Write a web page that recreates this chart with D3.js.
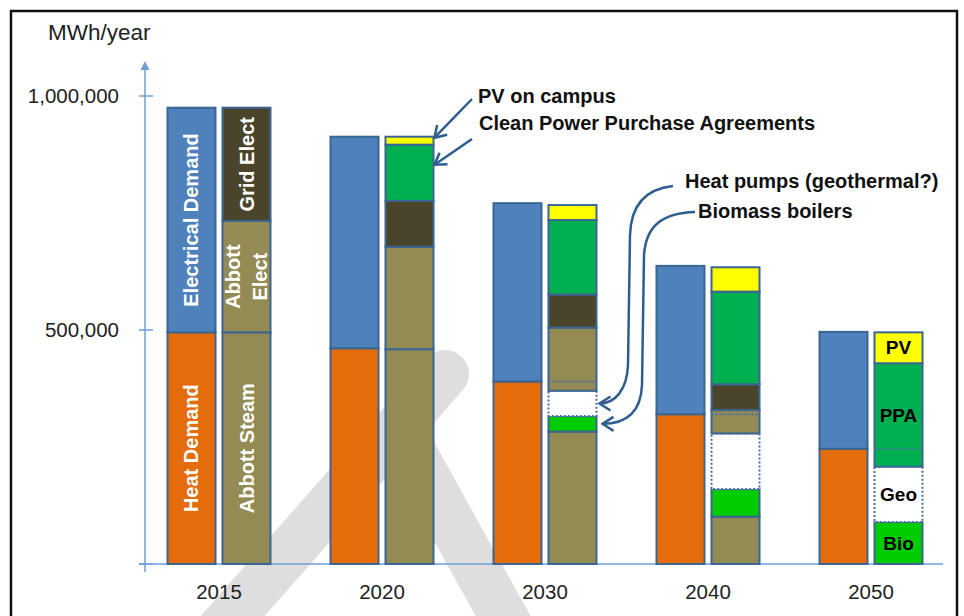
<!DOCTYPE html>
<html>
<head>
<meta charset="utf-8">
<script src="https://cdn.jsdelivr.net/npm/d3@7"></script>
<style>
  body { margin: 0; background: #fff; }
  svg { font-family: "Liberation Sans", Arial, sans-serif; }
</style>
</head>
<body>
<svg id="chart" width="964" height="616"></svg>
<script>
// values, MWh/year
const years = ['2015', '2020', '2030', '2040', '2050'];
const heatDemand = [495000, 461000, 390000, 320000, 246000];
const elecDemand = [480000, 452000, 381000, 317000, 250000];
const abbottSteam = [495000, 459000, 283000, 101000, 0];
const biomass = [0, 0, 33000, 59000, 90000];
const heatPumps = [0, 0, 54000, 119000, 118000];
const abbottElect = [238000, 219000, 135000, 50000, 0];
const gridElect = [242000, 98000, 71000, 55000, 0];
const ppa = [0, 120000, 159000, 198000, 221000];
const pv = [0, 17000, 32000, 52000, 66000];
const yTicks = [500000, 1000000];

const rows = years.map((yr, i) => ({
  year: yr,
  heat: heatDemand[i], elec: elecDemand[i],
  steam: abbottSteam[i], bio: biomass[i], geo: heatPumps[i],
  abElec: abbottElect[i], grid: gridElect[i], ppa: ppa[i], pv: pv[i]
}));

const colors = {
  heat: '#e46c0a', elec: '#4f81bd', steam: '#948a54', bio: '#00cc00',
  geo: '#ffffff', abElec: '#948a54', grid: '#4a452a', ppa: '#00b050', pv: '#ffff00'
};
const edge = '#3b6593';
const axisBlue = '#6f9fd8';
const arrowColor = '#2e5d8f';

const svg = d3.select('#chart');

const x0 = d3.scaleBand().domain(years).range([137.5, 952.5]);
const x1 = d3.scaleBand().domain(['demand', 'supply']).range([-51.5, 51.5]).paddingInner(0.1273);
const y = d3.scaleLinear().domain([0, 1000000]).range([564, 96]);
const cx = yr => x0(yr) + x0.bandwidth() / 2;

// watermark behind everything
svg.append('g')
  .attr('fill', 'none')
  .attr('stroke', '#dedede')
  .attr('stroke-width', 48)
  .attr('stroke-linecap', 'round')
  .selectAll('path')
  .data(['M203,650 L445,374', 'M400,430 L522,650'])
  .enter().append('path')
  .attr('d', d => d);

// axes
svg.append('line')
  .attr('x1', 145).attr('x2', 145)
  .attr('y1', y(0) + 8).attr('y2', 68)
  .attr('stroke', axisBlue).attr('stroke-width', 1.5);
svg.append('path')
  .attr('d', 'M145,61 L140.5,70 L149.5,70 Z')
  .attr('fill', axisBlue);
svg.append('line')
  .attr('x1', 139).attr('x2', 943)
  .attr('y1', y(0)).attr('y2', y(0))
  .attr('stroke', axisBlue).attr('stroke-width', 1.5);
svg.selectAll('.tickmark')
  .data([0].concat(yTicks))
  .enter().append('line')
  .attr('x1', 139).attr('x2', 153)
  .attr('y1', d => y(d)).attr('y2', d => y(d))
  .attr('stroke', axisBlue).attr('stroke-width', 1.5);

const yAxis = svg.append('g')
  .attr('transform', 'translate(145,0)')
  .call(d3.axisLeft(y).tickValues(yTicks).tickFormat(d3.format(',')).tickSize(0).tickPadding(26));
yAxis.select('.domain').remove();
yAxis.selectAll('text').attr('font-size', 20.5).attr('fill', '#222').attr('font-family', null);

const xAxis = svg.append('g')
  .attr('transform', `translate(0,${y(0)})`)
  .call(d3.axisBottom(x0).tickSize(0).tickPadding(20));
xAxis.select('.domain').remove();
xAxis.selectAll('text').attr('font-size', 20.5).attr('fill', '#222').attr('font-family', null);

svg.append('text')
  .attr('x', 48).attr('y', 40)
  .attr('font-size', 22.5).attr('fill', '#222')
  .text('MWh/year');

// stacked bars
const demandStack = d3.stack().keys(['heat', 'elec'])(rows);
const supplyStack = d3.stack().keys(['steam', 'bio', 'geo', 'abElec', 'grid', 'ppa', 'pv'])(rows);

function drawStack(stack, side) {
  stack.forEach(layer => {
    svg.append('g').selectAll('rect')
      .data(layer.filter(d => d[1] - d[0] > 0))
      .enter().append('rect')
      .attr('x', d => cx(d.data.year) + x1(side))
      .attr('width', x1.bandwidth())
      .attr('y', d => y(d[1]))
      .attr('height', d => y(d[0]) - y(d[1]))
      .attr('fill', colors[layer.key])
      .attr('stroke', layer.key === 'geo' ? '#4a6fa5' : edge)
      .attr('stroke-width', 2)
      .attr('stroke-dasharray', layer.key === 'geo' ? '2,2' : null);
  });
}
drawStack(demandStack, 'demand');
drawStack(supplyStack, 'supply');

// dotted line at the heat demand level on the supply bars
svg.append('g').selectAll('line')
  .data(rows.filter(d => d.geo > 0))
  .enter().append('line')
  .attr('x1', d => cx(d.year) + x1('supply'))
  .attr('x2', d => cx(d.year) + x1('supply') + x1.bandwidth())
  .attr('y1', d => y(d.heat)).attr('y2', d => y(d.heat))
  .attr('stroke', '#4a6fa5').attr('stroke-width', 2)
  .attr('stroke-dasharray', '2,2');

// labels inside the bars
const segLabels = [
  { year: '2015', side: 'demand', stack: demandStack, key: 'elec', lines: ['Electrical Demand'], rotate: true },
  { year: '2015', side: 'demand', stack: demandStack, key: 'heat', lines: ['Heat Demand'], rotate: true },
  { year: '2015', side: 'supply', stack: supplyStack, key: 'grid', lines: ['Grid Elect'], rotate: true },
  { year: '2015', side: 'supply', stack: supplyStack, key: 'abElec', lines: ['Abbott', 'Elect'], rotate: true },
  { year: '2015', side: 'supply', stack: supplyStack, key: 'steam', lines: ['Abbott Steam'], rotate: true },
  { year: '2050', side: 'supply', stack: supplyStack, key: 'pv', lines: ['PV'] },
  { year: '2050', side: 'supply', stack: supplyStack, key: 'ppa', lines: ['PPA'] },
  { year: '2050', side: 'supply', stack: supplyStack, key: 'geo', lines: ['Geo'] },
  { year: '2050', side: 'supply', stack: supplyStack, key: 'bio', lines: ['Bio'] }
];

segLabels.forEach(l => {
  const layer = l.stack.find(s => s.key === l.key);
  const d = layer[years.indexOf(l.year)];
  const mx = cx(l.year) + x1(l.side) + x1.bandwidth() / 2;
  const my = (y(d[0]) + y(d[1])) / 2;
  const t = svg.append('text')
    .attr('transform', `translate(${mx},${my})` + (l.rotate ? ' rotate(-90)' : ''))
    .attr('text-anchor', 'middle')
    .attr('font-size', l.rotate ? 20 : 19)
    .attr('font-weight', 'bold')
    .attr('fill', l.rotate ? '#fff' : '#000');
  const n = l.lines.length;
  l.lines.forEach((s, j) => {
    t.append('tspan')
      .attr('x', 0)
      .attr('y', (j - (n - 1) / 2) * 27)
      .attr('dy', '0.35em')
      .text(s);
  });
});

// annotations
const defs = svg.append('defs');
defs.append('marker')
  .attr('id', 'arr')
  .attr('viewBox', '-13 -9 15 18')
  .attr('refX', 0).attr('refY', 0)
  .attr('markerWidth', 15).attr('markerHeight', 18)
  .attr('markerUnits', 'userSpaceOnUse')
  .attr('orient', 'auto')
  .append('path')
  .attr('d', 'M-11,-7 L0,0 L-11,7')
  .attr('fill', 'none')
  .attr('stroke', arrowColor)
  .attr('stroke-width', 2.5);

const i20 = years.indexOf('2020'), i30 = years.indexOf('2030');
const sup20right = cx('2020') + x1('supply') + x1.bandwidth();
const sup30right = cx('2030') + x1('supply') + x1.bandwidth();
const pvLayer = supplyStack.find(s => s.key === 'pv');
const ppaLayer = supplyStack.find(s => s.key === 'ppa');
const geoLayer = supplyStack.find(s => s.key === 'geo');
const bioLayer = supplyStack.find(s => s.key === 'bio');
const mid = d => y((d[0] + d[1]) / 2);

const pvEnd = [sup20right + 1, y(pvLayer[i20][1]) + 1];
const ppaEnd = [sup20right + 1, mid(ppaLayer[i20]) - 8];
const geoEnd = [sup30right + 3, mid(geoLayer[i30])];
const bioEnd = [sup30right + 6, mid(bioLayer[i30])];

const arrows = [
  `M472,99 L${pvEnd[0]},${pvEnd[1]}`,
  `M472,139 L${ppaEnd[0]},${ppaEnd[1]}`,
  `M673,186 C645,189 631,205 630,235 L628,365 C627,390 615,${geoEnd[1]} ${geoEnd[0]},${geoEnd[1]}`,
  `M695,212 C662,213 646,226 644,255 L642,385 C641,410 628,${bioEnd[1]} ${bioEnd[0]},${bioEnd[1]}`
];
svg.append('g').selectAll('path')
  .data(arrows)
  .enter().append('path')
  .attr('d', d => d)
  .attr('fill', 'none')
  .attr('stroke', arrowColor)
  .attr('stroke-width', 2.5)
  .attr('marker-end', 'url(#arr)');

const notes = [
  { text: 'PV on campus', x: 478, y: 103 },
  { text: 'Clean Power Purchase Agreements', x: 479, y: 130 },
  { text: 'Heat pumps (geothermal?)', x: 685, y: 188 },
  { text: 'Biomass boilers', x: 698, y: 218 }
];
svg.append('g').selectAll('text')
  .data(notes)
  .enter().append('text')
  .attr('x', d => d.x).attr('y', d => d.y)
  .attr('font-size', 20).attr('font-weight', 'bold').attr('fill', '#111')
  .text(d => d.text);

// frame
svg.append('rect')
  .attr('x', 11).attr('y', 11)
  .attr('width', 946).attr('height', 640)
  .attr('fill', 'none')
  .attr('stroke', '#111')
  .attr('stroke-width', 2.5);
</script>
</body>
</html>
